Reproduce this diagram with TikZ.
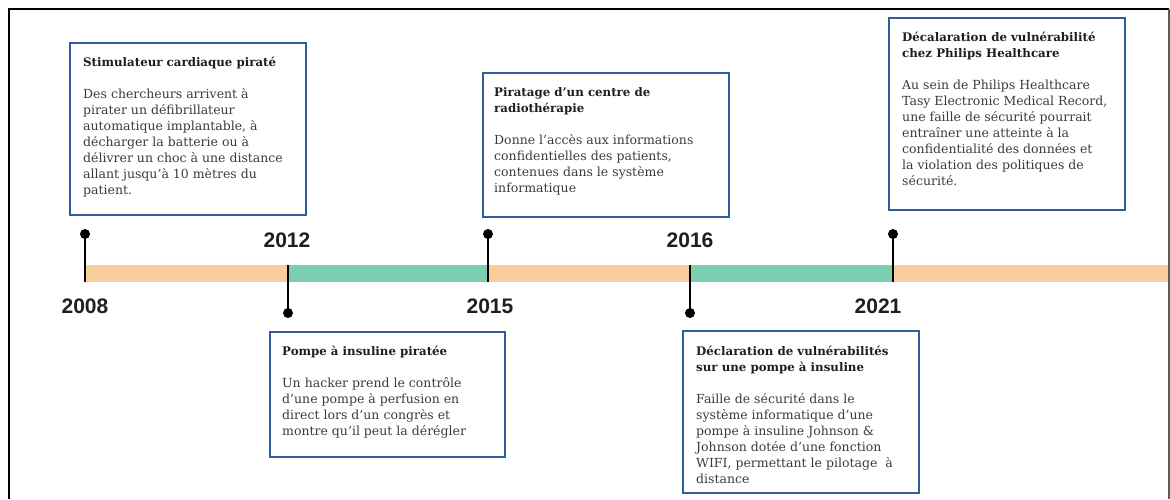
\documentclass[tikz,border=0pt]{standalone}
\usepackage{fontspec}
\setmainfont{DejaVu Serif}
\newfontfamily\yearfont{Liberation Sans}
\definecolor{boxblue}{RGB}{46,94,158}
\definecolor{barorange}{RGB}{249,204,158}
\definecolor{bargreen}{RGB}{124,206,176}
\definecolor{titlecol}{RGB}{30,30,30}
\definecolor{bodycol}{RGB}{60,60,60}
\definecolor{framegray}{RGB}{90,90,90}
\newcommand{\evtitle}[1]{{\color{titlecol}\fontsize{11.8}{16}\selectfont\bfseries #1}}
\begin{document}
\begin{tikzpicture}[x=1pt,y=-1pt,
  evbox/.style={draw=boxblue, line width=1.8pt, fill=white, anchor=north west, inner sep=0pt, outer sep=0pt},
  evtext/.style={anchor=north west, inner sep=0pt, align=left, font=\fontsize{12.5}{16}\selectfont, text=bodycol},
  yearlbl/.style={font=\yearfont\bfseries\fontsize{21}{21}\selectfont, text=black!88, inner sep=0pt},
  tdot/.style={circle, fill=black, inner sep=0pt, minimum size=10pt},
  tick/.style={draw=black, line width=1.3pt}
]
\useasboundingbox (0,0) rectangle (1170,499);
\fill[white] (0,0) rectangle (1170,499);
% frame
\draw[black, line width=2pt] (9,499) -- (9,9) -- (1169,9);
\draw[framegray, line width=1.2pt] (1169,9) -- (1169,499);
% bar
\fill[barorange] (85,265) rectangle (288,282);
\fill[bargreen] (288,265) rectangle (488,282);
\fill[barorange] (488,265) rectangle (690,282);
\fill[bargreen] (690,265) rectangle (893,282);
\fill[barorange] (893,265) rectangle (1168,282);
% ticks
\node[tdot] (d1) at (85,234) {};
\coordinate (c1) at (85,282);
\node[tdot] (d2) at (288,313) {};
\coordinate (c2) at (288,265);
\node[tdot] (d3) at (488,234) {};
\coordinate (c3) at (488,282);
\node[tdot] (d4) at (690,313) {};
\coordinate (c4) at (690,265);
\node[tdot] (d5) at (893,234) {};
\coordinate (c5) at (893,282);
\draw[tick] (d1.center) -- (c1);
\draw[tick] (d2.center) -- (c2);
\draw[tick] (d3.center) -- (c3);
\draw[tick] (d4.center) -- (c4);
\draw[tick] (d5.center) -- (c5);
% years
\node[yearlbl] (y1) at (85,306) {2008};
\node[yearlbl] (y2) at (287,240) {2012};
\node[yearlbl] (y3) at (490,306) {2015};
\node[yearlbl] (y4) at (690,240) {2016};
\node[yearlbl] (y5) at (878,306) {2021};
% boxes
\node[evbox, minimum width=236pt, minimum height=172pt] (b1) at (70,43) {};
\node[evtext] (t1) at (83,57) {\evtitle{Stimulateur cardiaque piraté}\\[16pt]
Des chercheurs arrivent à\\
pirater un défibrillateur\\
automatique implantable, à\\
décharger la batterie ou à\\
délivrer un choc à une distance\\
allant jusqu’à 10 mètres du\\
patient.};
\node[evbox, minimum width=246pt, minimum height=144pt] (b2) at (483,73) {};
\node[evtext] (t2) at (494,87) {\evtitle{Piratage d’un centre de}\\
\evtitle{radiothérapie}\\[16pt]
Donne l’accès aux informations\\
confidentielles des patients,\\
contenues dans le système\\
informatique};
\node[evbox, minimum width=236pt, minimum height=192pt] (b3) at (889,18) {};
\node[evtext] (t3) at (902,32) {\evtitle{Décalaration de vulnérabilité}\\
\evtitle{chez Philips Healthcare}\\[16pt]
Au sein de Philips Healthcare\\
Tasy Electronic Medical Record,\\
une faille de sécurité pourrait\\
entraîner une atteinte à la\\
confidentialité des données et\\
la violation des politiques de\\
sécurité.};
\node[evbox, minimum width=235pt, minimum height=125pt] (b4) at (270,332) {};
\node[evtext] (t4) at (282,346) {\evtitle{Pompe à insuline piratée}\\[16pt]
Un hacker prend le contrôle\\
d’une pompe à perfusion en\\
direct lors d’un congrès et\\
montre qu’il peut la dérégler};
\node[evbox, minimum width=236pt, minimum height=162pt] (b5) at (683,331) {};
\node[evtext] (t5) at (696,346) {\evtitle{Déclaration de vulnérabilités}\\
\evtitle{sur une pompe à insuline}\\[16pt]
Faille de sécurité dans le\\
système informatique d’une\\
pompe à insuline Johnson \&\\
Johnson dotée d’une fonction\\
WIFI, permettant le pilotage \ à\\
distance};
\end{tikzpicture}
\end{document}
